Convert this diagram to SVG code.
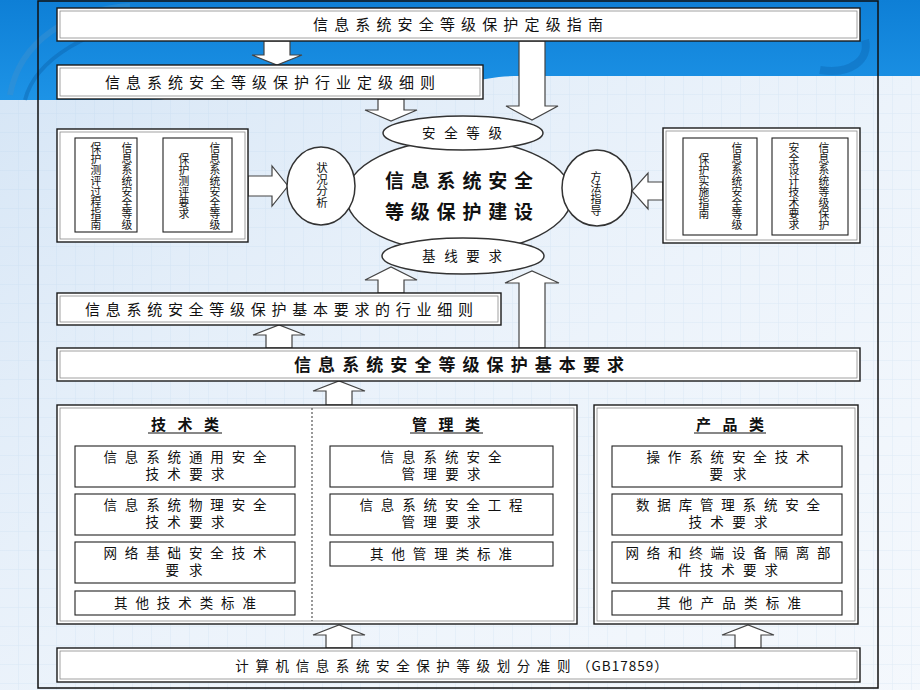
<svg xmlns="http://www.w3.org/2000/svg" width="920" height="690" viewBox="0 0 920 690">
<defs>
<pattern id="grid" width="19" height="19" patternUnits="userSpaceOnUse">
<rect width="19" height="19" fill="#f1f6fc"/>
<path d="M19 0V19M0 19H19" fill="none" stroke="#d8e6f4" stroke-width="1"/>
</pattern>
<linearGradient id="fade" x1="0" y1="0" x2="1" y2="1">
<stop offset="0" stop-color="#b9d4ef" stop-opacity="0.55"/>
<stop offset="0.5" stop-color="#dbe9f7" stop-opacity="0.3"/>
<stop offset="1" stop-color="#ffffff" stop-opacity="0.2"/>
</linearGradient>
<linearGradient id="band" x1="0" y1="0" x2="0" y2="1">
<stop offset="0" stop-color="#0e7fd6"/>
<stop offset="1" stop-color="#1d93e6"/>
</linearGradient>
<style>
.box{fill:#fff;stroke:#1a1a1a;stroke-width:1.4}
.inner{fill:none;stroke:#8a8a8a;stroke-width:0.8}
.sbox{fill:#fff;stroke:#222;stroke-width:1.1}
.ell{fill:#fff;stroke:#333;stroke-width:1.5}
.arr{fill:#fff;stroke:#444;stroke-width:1.2}
.t{font-family:"Noto Sans CJK SC","Noto Sans CJK JP",sans-serif;fill:#111;text-anchor:middle}
.f14{font-size:13.5px}
.v{font-size:10.8px}
.hd{font-size:15px;font-weight:bold}
</style>
</defs>
<!-- background -->
<rect width="920" height="690" fill="url(#grid)"/>
<rect width="920" height="690" fill="url(#fade)"/>
<path d="M0 0H920V76H520C480 76 470 86 420 86H250C200 86 180 100 150 100H0Z" fill="url(#band)"/>
<path d="M10 95C20 40 70 10 130 6" fill="none" stroke="#3a8fd0" stroke-width="6" opacity="0.5"/>
<path d="M25 100C35 60 90 25 160 20" fill="none" stroke="#0a5fa8" stroke-width="4" opacity="0.4"/>
<path d="M820 70C850 75 870 60 865 40" fill="none" stroke="#0a5fa8" stroke-width="8" opacity="0.35"/>
<rect x="38" y="1" width="840" height="687" fill="none" stroke="#111" stroke-width="1.5"/>

<g id="connectors">
<polygon class="arr" points="264,41 290,41 290,55 302,55 277,65 252,55 264,55"/>
<polygon class="arr" points="378,99 404,99 404,110 417,110 391,121 365,110 378,110"/>
<polygon class="arr" points="519,41 545,41 545,106 558,106 532,120 506,106 519,106"/>
<polygon class="arr" points="378,293 404,293 404,280 417,280 391,267 365,280 378,280"/>
<polygon class="arr" points="519,348 545,348 545,283 559,283 532,271 505,283 519,283"/>
<polygon class="arr" points="266,348 292,348 292,335 305,335 279,325 253,335 266,335"/>
<polygon class="arr" points="326,405 352,405 352,391 365,391 339,381 313,391 326,391"/>
<polygon class="arr" points="326,648 352,648 352,635 365,635 339,625 313,635 326,635"/>
<polygon class="arr" points="735,648 761,648 761,635 774,635 748,625 722,635 735,635"/>
<polygon class="arr" points="248,176 272,176 272,166 288,186 272,206 272,196 248,196"/>
<polygon class="arr" points="663,182 648,182 648,173 632,191 648,209 648,200 663,200"/>
</g>

<g id="n-guide">
<rect class="box" x="57" y="8" width="803" height="33"/>
<rect class="inner" x="60" y="11" width="797" height="27"/>
<text class="t" x="458" y="30" font-size="15" textLength="290" lengthAdjust="spacing">信息系统安全等级保护定级指南</text>
</g>
<g id="n-industry-grading">
<rect class="box" x="57" y="65" width="426" height="34"/>
<rect class="inner" x="60" y="68" width="420" height="28"/>
<text class="t" x="270" y="88" font-size="15" textLength="330" lengthAdjust="spacing">信息系统安全等级保护行业定级细则</text>
</g>

<g id="n-core">
<ellipse class="ell" cx="459" cy="196" rx="113" ry="56" stroke-width="2"/>
<text class="t" x="459" y="188" font-size="19" font-weight="bold" textLength="148" lengthAdjust="spacing">信息系统安全</text>
<text class="t" x="459" y="219" font-size="19" font-weight="bold" textLength="148" lengthAdjust="spacing">等级保护建设</text>
</g>
<g id="n-level">
<ellipse class="ell" cx="463" cy="133" rx="80" ry="17"/>
<text class="t" x="462" y="138" font-size="13.5" textLength="80" lengthAdjust="spacing">安全等级</text>
</g>
<g id="n-baseline">
<ellipse class="ell" cx="463" cy="256" rx="81" ry="18"/>
<text class="t" x="462" y="261" font-size="13.5" textLength="80" lengthAdjust="spacing">基线要求</text>
</g>
<g id="n-status">
<ellipse class="ell" cx="321" cy="186" rx="34" ry="39"/>
<text class="t" font-size="11.5" y="172"><tspan x="322">状</tspan><tspan x="322" dy="11.7">况</tspan><tspan x="322" dy="11.7">分</tspan><tspan x="322" dy="11.7">析</tspan></text>
</g>
<g id="n-method">
<ellipse class="ell" cx="597" cy="188" rx="35" ry="38"/>
<text class="t" font-size="11" y="181"><tspan x="596">方</tspan><tspan x="596" dy="11.2">法</tspan><tspan x="596" dy="11.2">指</tspan><tspan x="596" dy="11.2">导</tspan></text>
</g>

<g id="n-left-panel">
<rect class="box" x="57" y="129" width="191" height="113"/>
<rect class="inner" x="60" y="132" width="185" height="107"/>
<rect class="sbox" x="75" y="138" width="62" height="94"/>
<text class="t v" y="152"><tspan x="127">信</tspan><tspan x="127" dy="11">息</tspan><tspan x="127" dy="11">系</tspan><tspan x="127" dy="11">统</tspan><tspan x="127" dy="11">安</tspan><tspan x="127" dy="11">全</tspan><tspan x="127" dy="11">等</tspan><tspan x="127" dy="11">级</tspan></text>
<text class="t v" y="152"><tspan x="96">保</tspan><tspan x="96" dy="11">护</tspan><tspan x="96" dy="11">测</tspan><tspan x="96" dy="11">评</tspan><tspan x="96" dy="11">过</tspan><tspan x="96" dy="11">程</tspan><tspan x="96" dy="11">指</tspan><tspan x="96" dy="11">南</tspan></text>
<rect class="sbox" x="163" y="138" width="69" height="94"/>
<text class="t v" y="152"><tspan x="215">信</tspan><tspan x="215" dy="11">息</tspan><tspan x="215" dy="11">系</tspan><tspan x="215" dy="11">统</tspan><tspan x="215" dy="11">安</tspan><tspan x="215" dy="11">全</tspan><tspan x="215" dy="11">等</tspan><tspan x="215" dy="11">级</tspan></text>
<text class="t v" y="163"><tspan x="184">保</tspan><tspan x="184" dy="11">护</tspan><tspan x="184" dy="11">测</tspan><tspan x="184" dy="11">评</tspan><tspan x="184" dy="11">要</tspan><tspan x="184" dy="11">求</tspan></text>
</g>

<g id="n-right-panel">
<rect class="box" x="663" y="128" width="197" height="115"/>
<rect class="inner" x="666" y="131" width="191" height="109"/>
<rect class="sbox" x="683" y="138" width="74" height="97"/>
<text class="t v" y="152"><tspan x="737">信</tspan><tspan x="737" dy="11">息</tspan><tspan x="737" dy="11">系</tspan><tspan x="737" dy="11">统</tspan><tspan x="737" dy="11">安</tspan><tspan x="737" dy="11">全</tspan><tspan x="737" dy="11">等</tspan><tspan x="737" dy="11">级</tspan></text>
<text class="t v" y="163"><tspan x="704">保</tspan><tspan x="704" dy="11">护</tspan><tspan x="704" dy="11">实</tspan><tspan x="704" dy="11">施</tspan><tspan x="704" dy="11">指</tspan><tspan x="704" dy="11">南</tspan></text>
<rect class="sbox" x="772" y="138" width="76" height="97"/>
<text class="t v" y="152"><tspan x="824">信</tspan><tspan x="824" dy="11">息</tspan><tspan x="824" dy="11">系</tspan><tspan x="824" dy="11">统</tspan><tspan x="824" dy="11">等</tspan><tspan x="824" dy="11">级</tspan><tspan x="824" dy="11">保</tspan><tspan x="824" dy="11">护</tspan></text>
<text class="t v" y="152"><tspan x="794">安</tspan><tspan x="794" dy="11">全</tspan><tspan x="794" dy="11">设</tspan><tspan x="794" dy="11">计</tspan><tspan x="794" dy="11">技</tspan><tspan x="794" dy="11">术</tspan><tspan x="794" dy="11">要</tspan><tspan x="794" dy="11">求</tspan></text>
</g>

<g id="n-industry-basic">
<rect class="box" x="57" y="293" width="444" height="32"/>
<rect class="inner" x="60" y="296" width="438" height="26"/>
<text class="t" x="279" y="315" font-size="15" textLength="388" lengthAdjust="spacing">信息系统安全等级保护基本要求的行业细则</text>
</g>
<g id="n-basic">
<rect class="box" x="57" y="348" width="803" height="33"/>
<rect class="inner" x="60" y="351" width="797" height="27"/>
<text class="t" x="459" y="371" font-size="17" font-weight="bold" textLength="330" lengthAdjust="spacing">信息系统安全等级保护基本要求</text>
</g>

<g id="n-tech-mgmt">
<rect class="box" x="57" y="405" width="520" height="219"/>
<rect class="inner" x="60" y="408" width="514" height="213"/>
<line x1="312" y1="408" x2="312" y2="621" stroke="#555" stroke-width="1.2" stroke-dasharray="2,2"/>
</g>
<g id="n-tech">
<text class="t hd" x="185" y="430" textLength="68" lengthAdjust="spacing">技术类</text>
<line x1="148" y1="433" x2="222" y2="433" stroke="#111" stroke-width="1.2"/>
<rect class="sbox" x="75" y="446" width="220" height="41"/>
<text class="t f14" x="185" y="462" textLength="163" lengthAdjust="spacing">信息系统通用安全</text>
<text class="t f14" x="185" y="479" textLength="79" lengthAdjust="spacing">技术要求</text>
<rect class="sbox" x="75" y="494" width="220" height="41"/>
<text class="t f14" x="185" y="510" textLength="163" lengthAdjust="spacing">信息系统物理安全</text>
<text class="t f14" x="185" y="527" textLength="79" lengthAdjust="spacing">技术要求</text>
<rect class="sbox" x="75" y="542" width="220" height="41"/>
<text class="t f14" x="185" y="558" textLength="163" lengthAdjust="spacing">网络基础安全技术</text>
<text class="t f14" x="184" y="575" textLength="37" lengthAdjust="spacing">要求</text>
<rect class="sbox" x="75" y="591" width="220" height="24"/>
<text class="t f14" x="185" y="608" textLength="142" lengthAdjust="spacing">其他技术类标准</text>
</g>
<g id="n-mgmt">
<text class="t hd" x="446" y="430" textLength="68" lengthAdjust="spacing">管理类</text>
<line x1="410" y1="433" x2="483" y2="433" stroke="#111" stroke-width="1.2"/>
<rect class="sbox" x="330" y="446" width="223" height="41"/>
<text class="t f14" x="441" y="462" textLength="121" lengthAdjust="spacing">信息系统安全</text>
<text class="t f14" x="441" y="479" textLength="79" lengthAdjust="spacing">管理要求</text>
<rect class="sbox" x="330" y="494" width="223" height="41"/>
<text class="t f14" x="441" y="510" textLength="163" lengthAdjust="spacing">信息系统安全工程</text>
<text class="t f14" x="441" y="527" textLength="79" lengthAdjust="spacing">管理要求</text>
<rect class="sbox" x="330" y="542" width="223" height="24"/>
<text class="t f14" x="441" y="559" textLength="142" lengthAdjust="spacing">其他管理类标准</text>
</g>
<g id="n-product">
<rect class="box" x="594" y="405" width="264" height="219"/>
<rect class="inner" x="597" y="408" width="258" height="213"/>
<text class="t hd" x="730" y="430" textLength="68" lengthAdjust="spacing">产品类</text>
<line x1="694" y1="433" x2="766" y2="433" stroke="#111" stroke-width="1.2"/>
<rect class="sbox" x="612" y="446" width="230" height="41"/>
<text class="t f14" x="728" y="462" textLength="163" lengthAdjust="spacing">操作系统安全技术</text>
<text class="t f14" x="728" y="479" textLength="37" lengthAdjust="spacing">要求</text>
<rect class="sbox" x="612" y="494" width="230" height="41"/>
<text class="t f14" x="728" y="510" textLength="184" lengthAdjust="spacing">数据库管理系统安全</text>
<text class="t f14" x="728" y="527" textLength="79" lengthAdjust="spacing">技术要求</text>
<rect class="sbox" x="612" y="542" width="230" height="41"/>
<text class="t f14" x="728" y="558" textLength="205" lengthAdjust="spacing">网络和终端设备隔离部</text>
<text class="t f14" x="728" y="575" textLength="100" lengthAdjust="spacing">件技术要求</text>
<rect class="sbox" x="612" y="591" width="230" height="24"/>
<text class="t f14" x="729" y="608" textLength="144" lengthAdjust="spacing">其他产品类标准</text>
</g>

<g id="n-gb17859">
<rect class="box" x="57" y="648" width="803" height="34"/>
<rect class="inner" x="60" y="651" width="797" height="28"/>
<text class="t f14" x="452" y="671"><tspan letter-spacing="6.6">计算机信息系统安全保护等级划分准则</tspan><tspan letter-spacing="1">（GB17859）</tspan></text>
</g>
</svg>
